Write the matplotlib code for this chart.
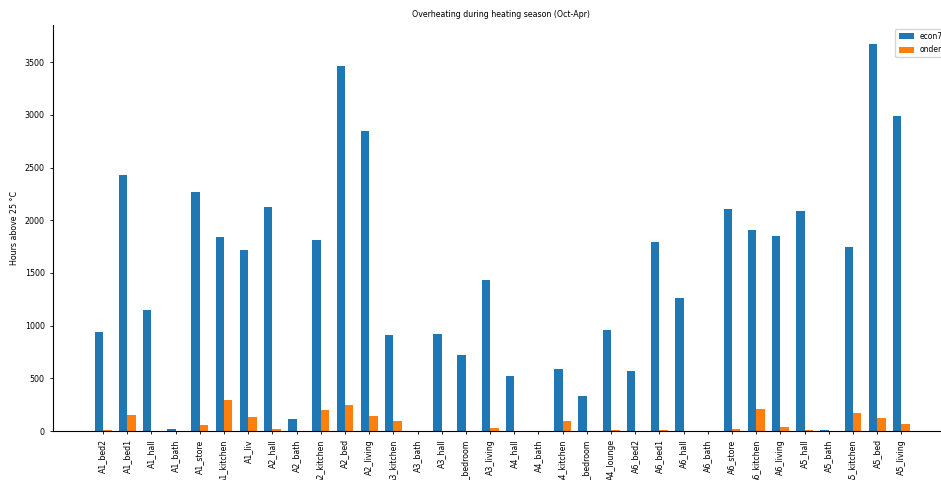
import numpy as np
import matplotlib.pyplot as plt

rooms = ["A1_bed2", "A1_bed1", "A1_hall", "A1_bath", "A1_store", "A1_kitchen", "A1_liv",
         "A2_hall", "A2_bath", "A2_kitchen", "A2_bed", "A2_living",
         "A3_kitchen", "A3_bath", "A3_hall", "A3_bedroom", "A3_living",
         "A4_hall", "A4_bath", "A4_kitchen", "A4_bedroom", "A4_lounge",
         "A6_bed2", "A6_bed1", "A6_hall", "A6_bath", "A6_store", "A6_kitchen", "A6_living",
         "A5_hall", "A5_bath", "A5_kitchen", "A5_bed", "A5_living"]

econ7 = [935, 2430, 1147, 16, 2272, 1842, 1719,
         2127, 117, 1811, 3463, 2847,
         913, 0, 922, 717, 1431,
         518, 0, 585, 332, 955,
         569, 1798, 1258, 0, 2105, 1908, 1852,
         2089, 8, 1747, 3669, 2993]

ondemand = [10, 149, 0, 0, 54, 291, 130,
            20, 0, 202, 249, 139,
            92, 0, 0, 0, 28,
            0, 0, 92, 0, 12,
            0, 8, 0, 0, 19, 205, 38,
            14, 0, 174, 126, 69]

plt.rcParams['font.size'] = 5.7

fig = plt.figure(figsize=(9.41, 4.8), dpi=100)
ax = fig.add_axes([0.0563, 0.102, 0.953, 0.846])

x = np.arange(len(rooms))
w = 0.35
ax.bar(x - w / 2, econ7, w, label="econ7", color="#1f77b4")
ax.bar(x + w / 2, ondemand, w, label="ondemand", color="#ff7f0e")

ax.set_xticks(x)
ax.set_xticklabels(rooms, rotation=90)
ax.set_xlim(-2.07, 35.0)
ax.set_ylim(0, 3853)
ax.set_ylabel("Hours above 25 °C")
ax.set_title("Overheating during heating season (Oct-Apr)", fontsize=5.7)

ax.spines['top'].set_visible(False)
ax.spines['right'].set_visible(False)
ax.tick_params(length=2.5, width=0.6)
for s in ['left', 'bottom']:
    ax.spines[s].set_linewidth(0.8)

ax.legend(loc="upper right", bbox_to_anchor=(1.02, 1.0), fontsize=5.5,
          handlelength=2.0, handleheight=0.9, labelspacing=0.6)

fig.savefig("out.png", dpi=100)
